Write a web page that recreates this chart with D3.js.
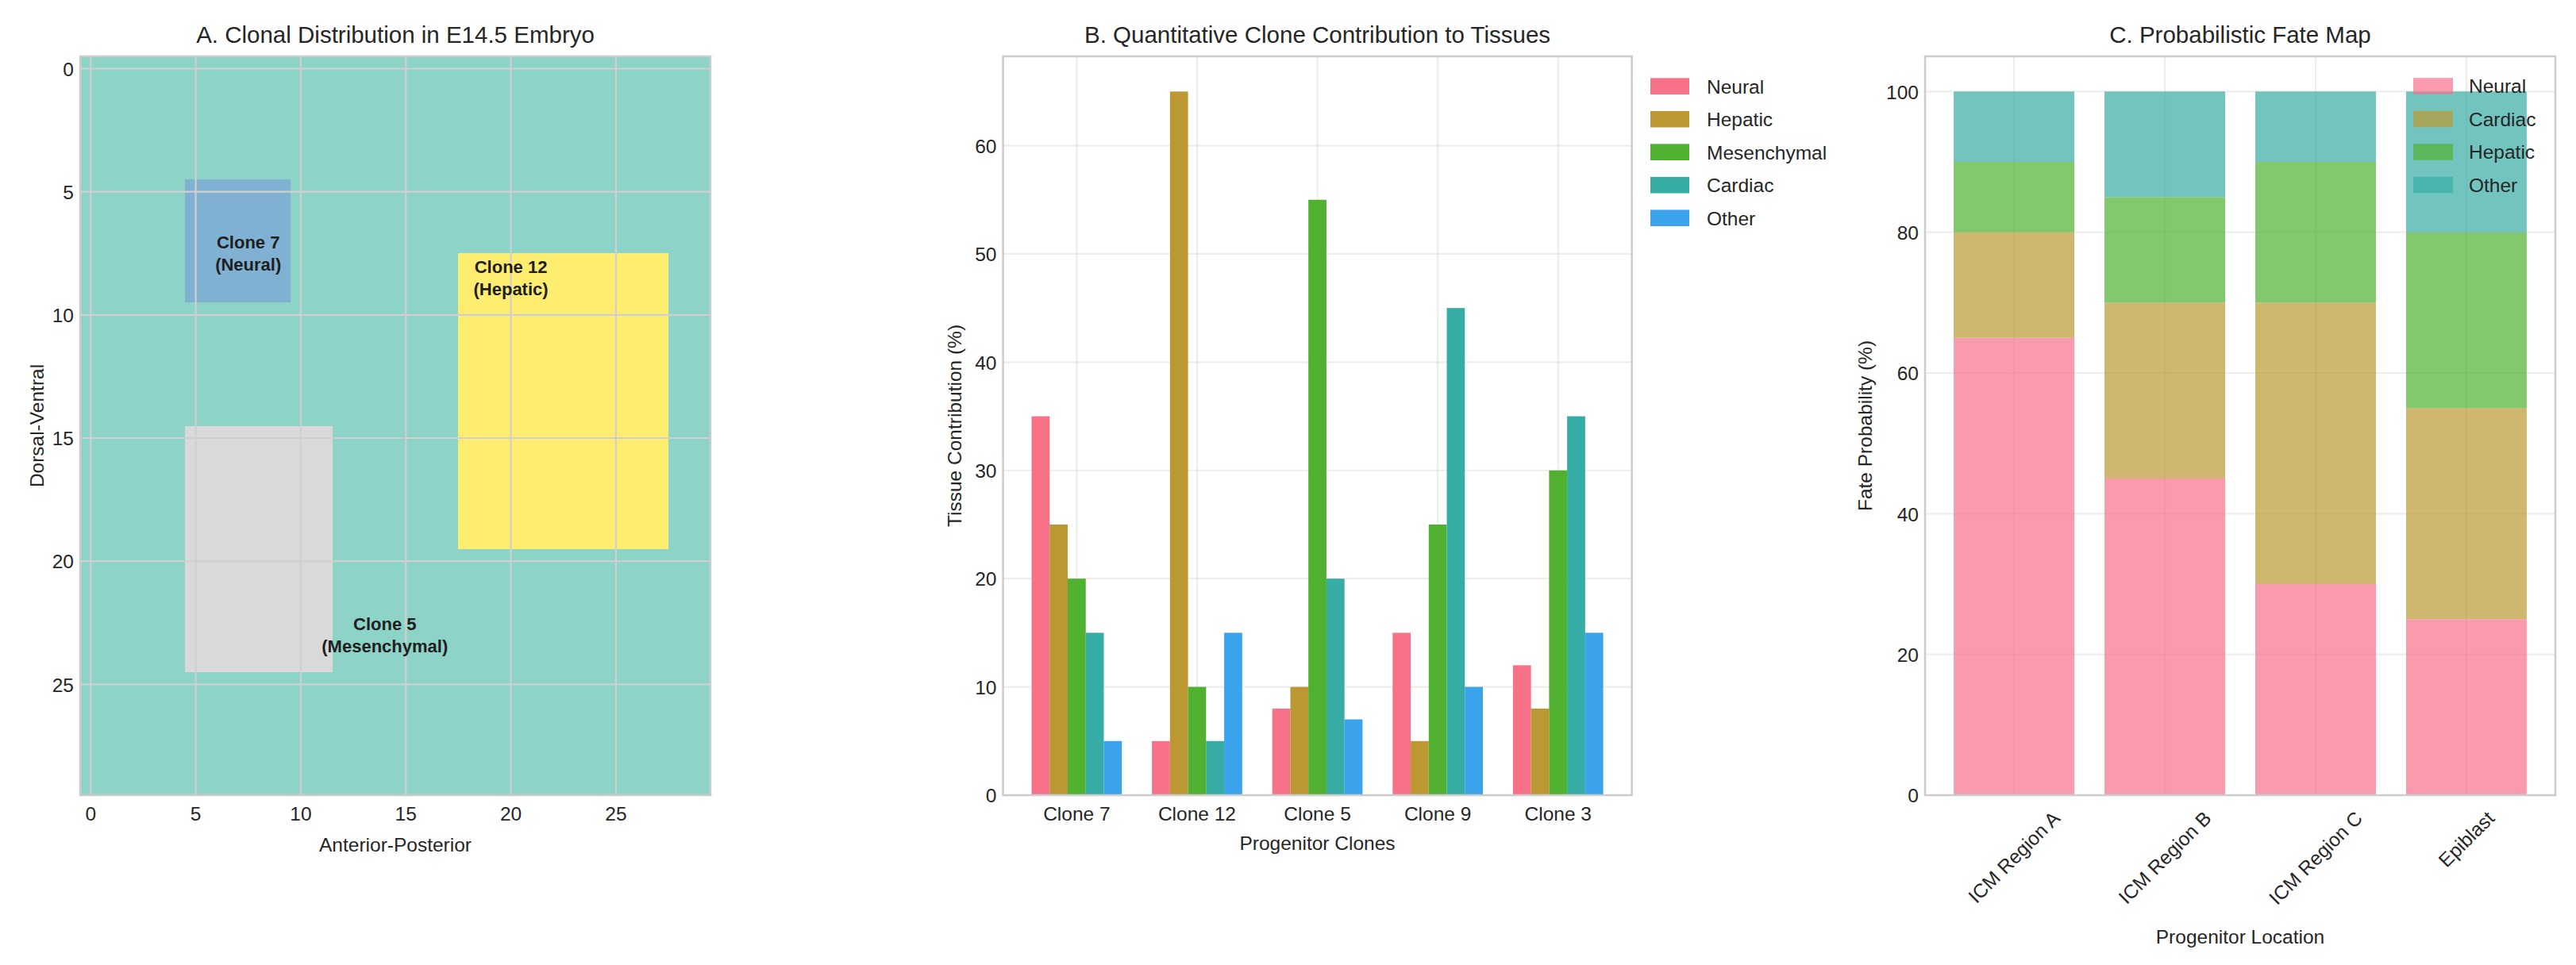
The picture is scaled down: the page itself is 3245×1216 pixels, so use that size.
<!DOCTYPE html>
<html>
<head>
<meta charset="utf-8">
<script src="https://cdn.jsdelivr.net/npm/d3@7"></script>
<style>
  html, body { margin: 0; padding: 0; background: #ffffff; }
  svg text { font-family: "Liberation Sans", Arial, sans-serif; fill: #262626; }
</style>
</head>
<body>
<svg id="chart" width="3245" height="1216"></svg>
<script>
// ---------------- DATA ----------------
// Panel A: clonal distribution grid (30 x 30), clones given as grid index ranges
const gridSize = 30;
const gridTicks = [0, 5, 10, 15, 20, 25];
const cloneNames = ["Clone 7", "Clone 12", "Clone 5"];
const cloneFates = ["Neural", "Hepatic", "Mesenchymal"];
const cloneColStart = [5, 18, 5];
const cloneColEnd = [9, 27, 11];
const cloneRowStart = [5, 8, 15];
const cloneRowEnd = [9, 19, 24];
const cloneLabelX = [7.5, 20, 14];
const cloneLabelY = [7.5, 8.5, 23];

// Panel B: quantitative clone contribution
const clonesB = ["Clone 7", "Clone 12", "Clone 5", "Clone 9", "Clone 3"];
const tissuesB = ["Neural", "Hepatic", "Mesenchymal", "Cardiac", "Other"];
const neuralB = [35, 5, 8, 15, 12];
const hepaticB = [25, 65, 10, 5, 8];
const mesenchymalB = [20, 10, 55, 25, 30];
const cardiacB = [15, 5, 20, 45, 35];
const otherB = [5, 15, 7, 10, 15];
const ticksB = [0, 10, 20, 30, 40, 50, 60];

// Panel C: probabilistic fate map (stacked)
const locationsC = ["ICM Region A", "ICM Region B", "ICM Region C", "Epiblast"];
const fatesC = ["Neural", "Cardiac", "Hepatic", "Other"];
const neuralC = [65, 45, 30, 25];
const cardiacC = [15, 25, 40, 30];
const hepaticC = [10, 15, 20, 25];
const otherC = [10, 15, 10, 20];
const ticksC = [0, 20, 40, 60, 80, 100];

// ---------------- STYLE ----------------
const cloneColors = ["#80B1D3", "#FFED6F", "#D9D9D9"];
const emptyColor = "#8DD3C7";
const huslColors = ["#F77189", "#BB9832", "#50B131", "#36ADA4", "#3BA3EC"];
const fateColorsC = ["#F77189", "#BB9832", "#50B131", "#36ADA4"];
const textColor = "#262626";
const spineColor = "#CCCCCC";
const tickFont = 24.5, titleFont = 29.5, labelFont = 24.5;

const svg = d3.select("#chart");
svg.append("rect").attr("width", 3245).attr("height", 1216).attr("fill", "#fff");

const plotTop = 71, plotBottom = 1002;

function frame(g, x0, x1) {
  g.append("rect").attr("x", x0).attr("y", plotTop).attr("width", x1 - x0).attr("height", plotBottom - plotTop)
    .attr("fill", "none").attr("stroke", spineColor).attr("stroke-width", 2.5);
}
function title(g, cx, txt) {
  g.append("text").attr("x", cx).attr("y", 54).attr("text-anchor", "middle")
    .attr("font-size", titleFont).text(txt);
}
function yLabel(g, bx, txt) {
  g.append("text").attr("transform", `translate(${bx},${(plotTop + plotBottom) / 2}) rotate(-90)`)
    .attr("text-anchor", "middle").attr("font-size", labelFont).text(txt);
}
function xLabel(g, cx, by, txt) {
  g.append("text").attr("x", cx).attr("y", by).attr("text-anchor", "middle")
    .attr("font-size", labelFont).text(txt);
}
function yTicks(g, scale, ticks, axisX) {
  ticks.forEach(t => {
    g.append("text").attr("x", axisX - 8).attr("y", scale(t)).attr("dy", "0.38em")
      .attr("text-anchor", "end").attr("font-size", tickFont).text(t);
  });
}

// ================= PANEL A =================
{
  const g = svg.append("g");
  const x0 = 101, x1 = 895;
  const x = d3.scaleLinear().domain([-0.5, gridSize - 0.5]).range([x0, x1]);
  const y = d3.scaleLinear().domain([-0.5, gridSize - 0.5]).range([plotTop, plotBottom]);

  // build matrix
  const cells = [];
  for (let r = 0; r < gridSize; r++) {
    for (let c = 0; c < gridSize; c++) {
      let v = -1;
      cloneNames.forEach((n, i) => {
        if (c >= cloneColStart[i] && c <= cloneColEnd[i] && r >= cloneRowStart[i] && r <= cloneRowEnd[i]) v = i;
      });
      cells.push({ r, c, v });
    }
  }
  g.selectAll("rect.cell").data(cells).enter().append("rect")
    .attr("x", d => x(d.c - 0.5))
    .attr("y", d => y(d.r - 0.5))
    .attr("width", d => x(d.c + 0.5) - x(d.c - 0.5) + 0.6)
    .attr("height", d => y(d.r + 0.5) - y(d.r - 0.5) + 0.6)
    .attr("fill", d => d.v < 0 ? emptyColor : cloneColors[d.v])
    .attr("shape-rendering", "crispEdges");

  // clip overlap to plot
  // grid lines on top
  gridTicks.forEach(t => {
    g.append("line").attr("x1", x(t)).attr("x2", x(t)).attr("y1", plotTop).attr("y2", plotBottom)
      .attr("stroke", "#CFCFCF").attr("stroke-width", 2.2);
    g.append("line").attr("y1", y(t)).attr("y2", y(t)).attr("x1", x0).attr("x2", x1)
      .attr("stroke", "#CFCFCF").attr("stroke-width", 2.2);
  });
  // white cover on edges of overlap
  g.append("rect").attr("x", x1).attr("y", plotTop - 2).attr("width", 4).attr("height", plotBottom - plotTop + 6).attr("fill", "#fff");
  g.append("rect").attr("x", x0 - 2).attr("y", plotBottom).attr("width", x1 - x0 + 6).attr("height", 4).attr("fill", "#fff");
  frame(g, x0, x1);

  // clone labels
  cloneNames.forEach((n, i) => {
    const t = g.append("text").attr("text-anchor", "middle").attr("font-size", 22).attr("font-weight", "bold")
      .style("fill", "#1f1f1f");
    t.append("tspan").attr("x", x(cloneLabelX[i])).attr("y", y(cloneLabelY[i]) - 6).text(n);
    t.append("tspan").attr("x", x(cloneLabelX[i])).attr("y", y(cloneLabelY[i]) + 22).text("(" + cloneFates[i] + ")");
  });

  // ticks
  yTicks(g, y, gridTicks, x0);
  gridTicks.forEach(t => {
    g.append("text").attr("x", x(t)).attr("y", 1034).attr("text-anchor", "middle")
      .attr("font-size", tickFont).text(t);
  });
  title(g, (x0 + x1) / 2, "A. Clonal Distribution in E14.5 Embryo");
  xLabel(g, (x0 + x1) / 2, 1073, "Anterior-Posterior");
  yLabel(g, 55, "Dorsal-Ventral");
}

// ================= PANEL B =================
{
  const g = svg.append("g");
  const x0 = 1263.5, x1 = 2055.6;
  const seriesB = [neuralB, hepaticB, mesenchymalB, cardiacB, otherB];
  const barW = 0.15;
  const x = d3.scaleLinear().domain([-0.6125, clonesB.length - 1 + 0.6125]).range([x0, x1]);
  const yMax = d3.max(seriesB.flat()) * 1.05;
  const y = d3.scaleLinear().domain([0, yMax]).range([plotBottom, plotTop]);

  // grid
  ticksB.forEach(t => {
    g.append("line").attr("x1", x0).attr("x2", x1).attr("y1", y(t)).attr("y2", y(t))
      .attr("stroke", "#CCCCCC").attr("stroke-opacity", 0.35).attr("stroke-width", 2.2);
  });
  clonesB.forEach((c, i) => {
    g.append("line").attr("x1", x(i)).attr("x2", x(i)).attr("y1", plotTop).attr("y2", plotBottom)
      .attr("stroke", "#CCCCCC").attr("stroke-opacity", 0.35).attr("stroke-width", 2.2);
  });

  seriesB.forEach((vals, j) => {
    g.selectAll(null).data(vals).enter().append("rect")
      .attr("x", (d, i) => x(i + (j - 2) * barW - barW / 2))
      .attr("width", x(barW) - x(0))
      .attr("y", d => y(d))
      .attr("height", d => y(0) - y(d))
      .attr("fill", huslColors[j]);
  });
  frame(g, x0, x1);

  yTicks(g, y, ticksB, x0);
  clonesB.forEach((c, i) => {
    g.append("text").attr("x", x(i)).attr("y", 1034).attr("text-anchor", "middle")
      .attr("font-size", tickFont).text(c);
  });
  title(g, (x0 + x1) / 2, "B. Quantitative Clone Contribution to Tissues");
  xLabel(g, (x0 + x1) / 2, 1071, "Progenitor Clones");
  yLabel(g, 1211, "Tissue Contribution (%)");

  // legend (outside right)
  tissuesB.forEach((t, j) => {
    const cy = 108.7 + j * 41.5;
    g.append("rect").attr("x", 2079).attr("y", cy - 10.3).attr("width", 49).attr("height", 20.6).attr("fill", huslColors[j]);
    g.append("text").attr("x", 2150).attr("y", cy).attr("dy", "0.36em").attr("font-size", tickFont).text(t);
  });
}

// ================= PANEL C =================
{
  const g = svg.append("g");
  const x0 = 2425, x1 = 3219;
  const seriesC = [neuralC, cardiacC, hepaticC, otherC];
  const x = d3.scaleLinear().domain([-0.59, locationsC.length - 1 + 0.59]).range([x0, x1]);
  const totals = locationsC.map((l, i) => d3.sum(seriesC, s => s[i]));
  const y = d3.scaleLinear().domain([0, d3.max(totals) * 1.05]).range([plotBottom, plotTop]);

  ticksC.forEach(t => {
    g.append("line").attr("x1", x0).attr("x2", x1).attr("y1", y(t)).attr("y2", y(t))
      .attr("stroke", "#CCCCCC").attr("stroke-opacity", 0.35).attr("stroke-width", 2.2);
  });
  locationsC.forEach((c, i) => {
    g.append("line").attr("x1", x(i)).attr("x2", x(i)).attr("y1", plotTop).attr("y2", plotBottom)
      .attr("stroke", "#CCCCCC").attr("stroke-opacity", 0.35).attr("stroke-width", 2.2);
  });

  const stackData = locationsC.map((l, i) => {
    const o = { loc: l, i };
    fatesC.forEach((f, j) => o[f] = seriesC[j][i]);
    return o;
  });
  const stacked = d3.stack().keys(fatesC)(stackData);
  stacked.forEach((layer, j) => {
    g.selectAll(null).data(layer).enter().append("rect")
      .attr("x", (d, i) => x(i - 0.4))
      .attr("width", x(0.8) - x(0))
      .attr("y", d => y(d[1]))
      .attr("height", d => y(d[0]) - y(d[1]))
      .attr("fill", fateColorsC[j]).attr("fill-opacity", 0.7);
  });
  frame(g, x0, x1);

  yTicks(g, y, ticksC, x0);
  locationsC.forEach((l, i) => {
    const t = g.append("text").attr("text-anchor", "middle").attr("dominant-baseline", "central")
      .attr("font-size", tickFont).text(l);
    const L = t.node().getComputedTextLength();
    const h = tickFont * 1.12;
    const bh = (L + h) * Math.SQRT1_2;
    t.attr("transform", `translate(${x(i)},${1017 + bh / 2}) rotate(-45)`);
  });
  title(g, (x0 + x1) / 2, "C. Probabilistic Fate Map");
  xLabel(g, (x0 + x1) / 2, 1189, "Progenitor Location");
  yLabel(g, 2358, "Fate Probability (%)");

  // legend (inside upper right, no frame)
  fatesC.forEach((f, j) => {
    const cy = 108.5 + j * 41.5;
    g.append("rect").attr("x", 3040).attr("y", cy - 10.3).attr("width", 50).attr("height", 20.6)
      .attr("fill", fateColorsC[j]).attr("fill-opacity", 0.7);
    g.append("text").attr("x", 3110).attr("y", cy).attr("dy", "0.36em").attr("font-size", tickFont).text(f);
  });
}
</script>
</body>
</html>
